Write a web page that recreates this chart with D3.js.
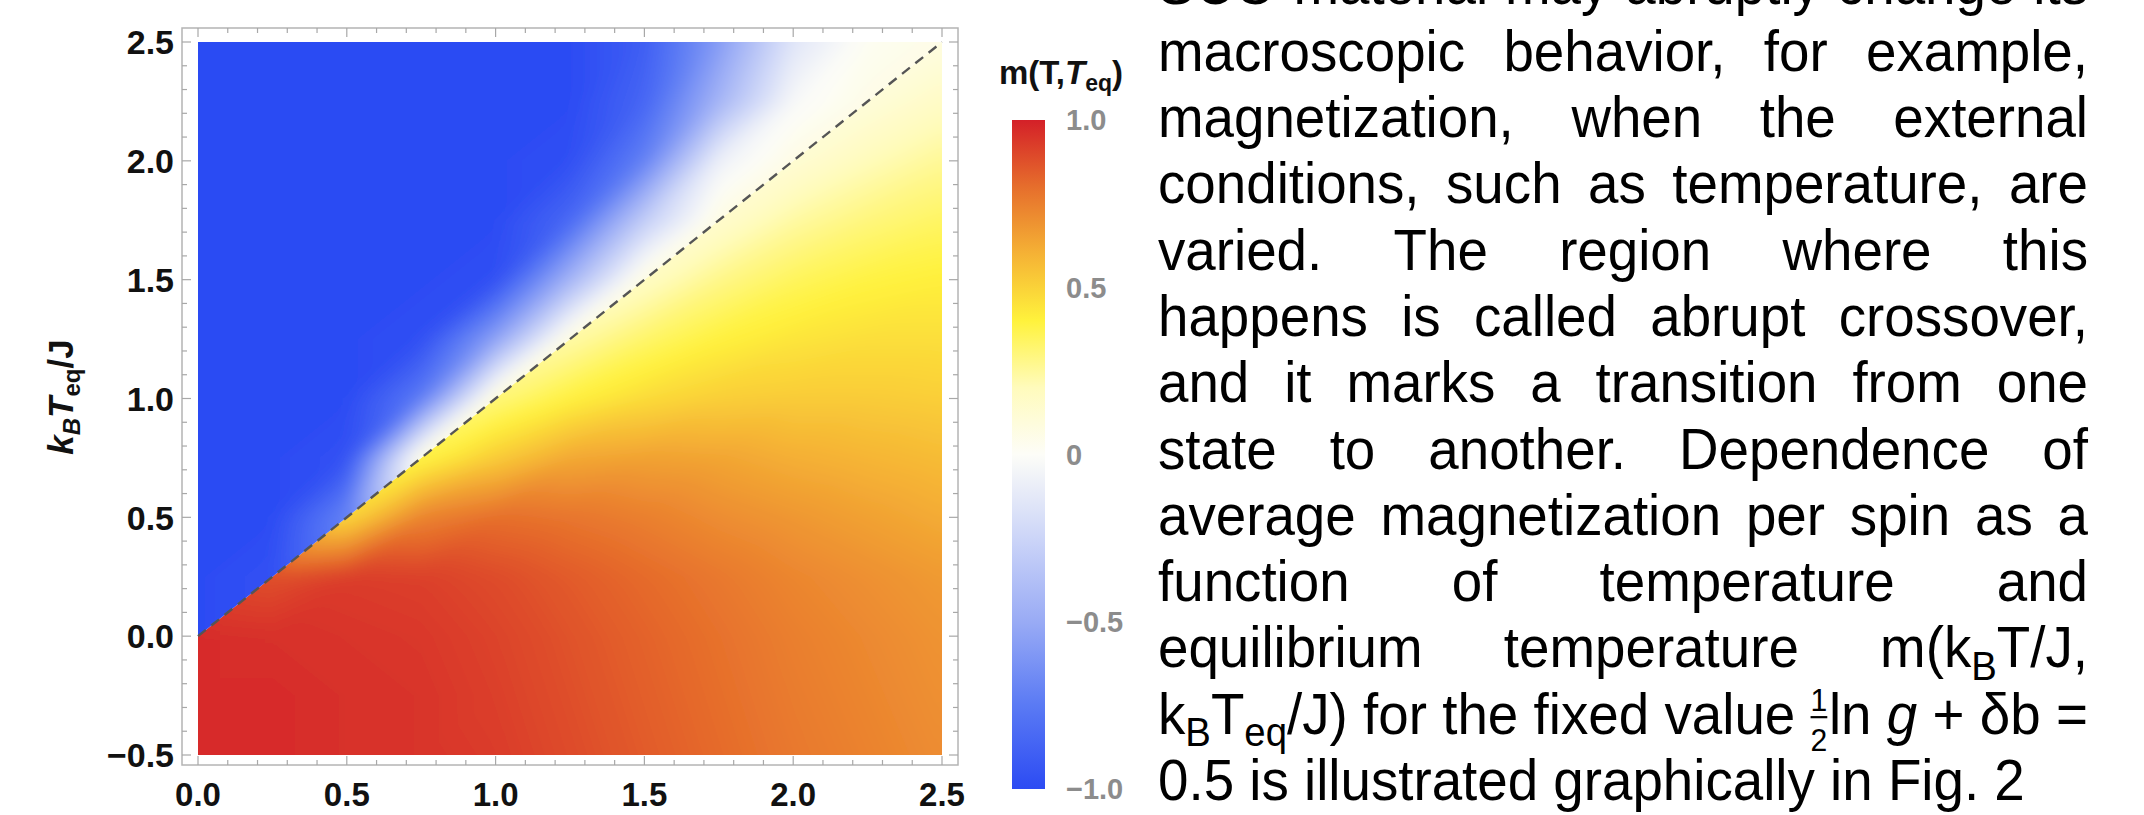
<!DOCTYPE html>
<html><head><meta charset="utf-8">
<script src="https://cdn.jsdelivr.net/npm/d3@7"></script>
<style>html,body{margin:0;padding:0;background:#fff;overflow:hidden}svg{display:block}</style>
</head><body>
<svg id="chart" width="2144" height="815"></svg>
<script>
// ---------------- data ----------------
const tNodes   = [0, 0.25, 0.5, 0.75, 1.0, 1.25, 1.5, 1.75, 2.0, 2.25, 2.5];
const teqNodes = [-0.5, -0.25, 0, 0.25, 0.5, 0.75, 1.0, 1.25, 1.5, 1.75, 2.0, 2.25, 2.5];
// m on the side T >= Teq (rows: Teq, columns: T); null = other side of the diagonal
const mBelow = [
  [0.97, 0.97, 0.96, 0.95, 0.93, 0.89, 0.85, 0.81, 0.77, 0.74, 0.71],
  [0.97, 0.97, 0.96, 0.95, 0.92, 0.88, 0.84, 0.80, 0.76, 0.73, 0.70],
  [0.97, 0.96, 0.95, 0.94, 0.91, 0.87, 0.83, 0.79, 0.75, 0.72, 0.69],
  [null, 0.88, 0.93, 0.92, 0.89, 0.85, 0.81, 0.77, 0.73, 0.70, 0.67],
  [null, null, 0.48, 0.74, 0.80, 0.78, 0.75, 0.71, 0.68, 0.65, 0.62],
  [null, null, null, 0.38, 0.52, 0.63, 0.65, 0.64, 0.61, 0.59, 0.57],
  [null, null, null, null, 0.30, 0.40, 0.47, 0.51, 0.52, 0.52, 0.51],
  [null, null, null, null, null, 0.23, 0.33, 0.40, 0.44, 0.46, 0.46],
  [null, null, null, null, null, null, 0.17, 0.28, 0.35, 0.39, 0.41],
  [null, null, null, null, null, null, null, 0.14, 0.24, 0.30, 0.34],
  [null, null, null, null, null, null, null, null, 0.12, 0.20, 0.26],
  [null, null, null, null, null, null, null, null, null, 0.10, 0.17],
  [null, null, null, null, null, null, null, null, null, null, 0.08]
];
// m on the side T <= Teq
const mAbove = [
  [null, null, null, null, null, null, null, null, null, null, null],
  [null, null, null, null, null, null, null, null, null, null, null],
  [-1.0, null, null, null, null, null, null, null, null, null, null],
  [-1.0, -0.97, null, null, null, null, null, null, null, null, null],
  [-1.0, -1.0, -0.70, null, null, null, null, null, null, null, null],
  [-1.0, -1.0, -0.97, 0.10, null, null, null, null, null, null, null],
  [-1.0, -1.0, -1.0, -0.75, 0.12, null, null, null, null, null, null],
  [-1.0, -1.0, -1.0, -0.98, -0.55, 0.10, null, null, null, null, null],
  [-1.0, -1.0, -1.0, -1.0, -0.98, -0.45, 0.09, null, null, null, null],
  [-1.0, -1.0, -1.0, -1.0, -1.0, -0.85, -0.30, 0.08, null, null, null],
  [-1.0, -1.0, -1.0, -1.0, -1.0, -0.98, -0.72, -0.08, 0.07, null, null],
  [-1.0, -1.0, -1.0, -1.0, -1.0, -1.0, -0.86, -0.45, -0.03, 0.06, null],
  [-1.0, -1.0, -1.0, -1.0, -1.0, -1.0, -0.90, -0.58, -0.15, 0.02, 0.06]
];
const diagT   = [0, 2.5];
const diagTeq = [0, 2.5];
const xTicks = [0, 0.5, 1.0, 1.5, 2.0, 2.5];
const xTickLabels = ["0.0", "0.5", "1.0", "1.5", "2.0", "2.5"];
const yTicks = [-0.5, 0, 0.5, 1.0, 1.5, 2.0, 2.5];
const yTickLabels = ["\u22120.5", "0.0", "0.5", "1.0", "1.5", "2.0", "2.5"];
const cbTicks = [-1, -0.5, 0, 0.5, 1];
const cbTickLabels = ["\u22121.0", "\u22120.5", "0", "0.5", "1.0"];
const colorStops = [-1, -0.75, -0.5, -0.25, 0, 0.2, 0.4, 0.6, 0.8, 1];
const colorHex = ["#2c4bf3", "#5a7af4", "#99abf5", "#ccd5f8", "#fdfdf8", "#fffbbc", "#fff23c", "#f5b235", "#e66e2c", "#d42028"];
const paraLines = [
  "SCO material may abruptly change its",
  "macroscopic behavior, for example,",
  "magnetization, when the external",
  "conditions, such as temperature, are",
  "varied. The region where this",
  "happens is called abrupt crossover,",
  "and it marks a transition from one",
  "state to another. Dependence of",
  "average magnetization per spin as a",
  "function of temperature and",
  "equilibrium temperature m(k_{B}T/J,",
  "k_{B}T_{eq}/J) for the fixed value ^{1/2}ln *g* + \u03b4b =",
  "0.5 is illustrated graphically in Fig. 2"
];
const paraJustify = [true,true,true,true,true,true,true,true,true,true,true,true,false];

// ---------------- chart ----------------
const svg = d3.select('#chart');
const FONT = "'Liberation Sans', Arial, Helvetica, sans-serif";
const x = d3.scaleLinear().domain([0, 2.5]).range([198, 942]);
const y = d3.scaleLinear().domain([-0.5, 2.5]).range([755, 42]);
const color = d3.scaleLinear().domain(colorStops).range(colorHex).clamp(true);

function interp(grid, T, Teq) {
  T = Math.max(tNodes[0], Math.min(tNodes[tNodes.length - 1], T));
  Teq = Math.max(teqNodes[0], Math.min(teqNodes[teqNodes.length - 1], Teq));
  const st = tNodes[1] - tNodes[0], sq = teqNodes[1] - teqNodes[0];
  const fi = (T - tNodes[0]) / st, fj = (Teq - teqNodes[0]) / sq;
  const i = Math.max(0, Math.min(tNodes.length - 2, Math.floor(fi)));
  const j = Math.max(0, Math.min(teqNodes.length - 2, Math.floor(fj)));
  const u = Math.max(0, Math.min(1, fi - i)), v = Math.max(0, Math.min(1, fj - j));
  let f00 = grid[j][i], f10 = grid[j][i + 1], f01 = grid[j + 1][i], f11 = grid[j + 1][i + 1];
  const av = [f00, f10, f01, f11].filter(d => d != null);
  const fb = av.length ? d3.mean(av) : 0;
  f00 = f00 ?? fb; f10 = f10 ?? fb; f01 = f01 ?? fb; f11 = f11 ?? fb;
  if (v >= u) return f00 + u * (f11 - f01) + v * (f01 - f00);
  return f00 + u * (f10 - f00) + v * (f11 - f10);
}

const defs = svg.append('defs');
defs.append('filter').attr('id', 'soft').attr('x', '-5%').attr('y', '-5%').attr('width', '110%').attr('height', '110%')
  .append('feGaussianBlur').attr('stdDeviation', 9);
// regions on each side of the diagonal, built from the scales
const polyAbove = [[0, 0], [0, 2.5], [2.5, 2.5]].map(d => [x(d[0]), y(d[1])]);
const polyBelow = [[0, 0], [2.5, 2.5], [2.5, -0.5], [0, -0.5]].map(d => [x(d[0]), y(d[1])]);
defs.append('clipPath').attr('id', 'clipAbove').append('polygon').attr('points', polyAbove.map(p => p.join(',')).join(' '));
defs.append('clipPath').attr('id', 'clipBelow').append('polygon').attr('points', polyBelow.map(p => p.join(',')).join(' '));

const lut = d3.range(1001).map(k => d3.rgb(color(-1 + 2 * k / 1000)));
const EXT = 30;
const rx0 = Math.round(x(0)) - EXT, rx1 = Math.round(x(2.5)) + EXT;
const ry0 = Math.round(y(2.5)) - EXT, ry1 = Math.round(y(-0.5)) + EXT;
function raster(grid) {
  const W = rx1 - rx0, H = ry1 - ry0;
  const cv = document.createElement('canvas'); cv.width = W; cv.height = H;
  const ctx = cv.getContext('2d');
  const img = ctx.createImageData(W, H);
  for (let py = 0; py < H; py++) {
    const Teq = y.invert(ry0 + py + 0.5);
    for (let px = 0; px < W; px++) {
      const T = x.invert(rx0 + px + 0.5);
      const m = interp(grid, T, Teq);
      const c = lut[Math.max(0, Math.min(1000, Math.round((m + 1) * 500)))];
      const o = (py * W + px) * 4;
      img.data[o] = c.r; img.data[o + 1] = c.g; img.data[o + 2] = c.b; img.data[o + 3] = 255;
    }
  }
  ctx.putImageData(img, 0, 0);
  return cv.toDataURL();
}
[[mBelow, 'clipBelow'], [mAbove, 'clipAbove']].forEach(([grid, clip]) => {
  svg.append('g').attr('clip-path', `url(#${clip})`)
    .append('image').attr('x', rx0).attr('y', ry0).attr('width', rx1 - rx0).attr('height', ry1 - ry0)
    .attr('preserveAspectRatio', 'none').attr('filter', 'url(#soft)').attr('href', raster(grid));
});

// dashed diagonal
svg.append('path')
  .attr('d', d3.line().x(d => x(d[0])).y(d => y(d[1]))(diagT.map((t, k) => [t, diagTeq[k]])))
  .attr('fill', 'none').attr('stroke', '#555').attr('stroke-width', 2.4)
  .attr('stroke-dasharray', '10,7');

// frame
const fr = { l: x(0) - 16, r: x(2.5) + 16, t: y(2.5) - 14, b: y(-0.5) + 10 };
svg.append('rect').attr('x', fr.l).attr('y', fr.t).attr('width', fr.r - fr.l).attr('height', fr.b - fr.t)
  .attr('fill', 'none').attr('stroke', '#b4b4b4').attr('stroke-width', 1.5);
const tk = svg.append('g').attr('stroke', '#a8a8a8').attr('stroke-width', 1.2);
const isMajor = v => Math.abs(v * 2 - Math.round(v * 2)) < 1e-6;
d3.ticks(0, 2.5, 25).forEach(v => {
  const L = isMajor(v) ? 9 : 5, X = x(v);
  tk.append('line').attr('x1', X).attr('x2', X).attr('y1', fr.b).attr('y2', fr.b - L);
  tk.append('line').attr('x1', X).attr('x2', X).attr('y1', fr.t).attr('y2', fr.t + L);
});
d3.ticks(-0.5, 2.5, 30).forEach(v => {
  const L = isMajor(v) ? 9 : 5, Y = y(v);
  tk.append('line').attr('y1', Y).attr('y2', Y).attr('x1', fr.l).attr('x2', fr.l + L);
  tk.append('line').attr('y1', Y).attr('y2', Y).attr('x1', fr.r).attr('x2', fr.r - L);
});
// tick labels
svg.append('g').selectAll('text').data(xTicks).join('text')
  .attr('x', d => x(d)).attr('y', fr.b + 41).attr('text-anchor', 'middle')
  .attr('font-family', FONT).attr('font-weight', 'bold').attr('font-size', 33).attr('fill', '#111')
  .text((d, k) => xTickLabels[k]);
svg.append('g').selectAll('text').data(yTicks).join('text')
  .attr('x', fr.l - 8).attr('y', d => y(d)).attr('dy', '0.36em').attr('text-anchor', 'end')
  .attr('font-family', FONT).attr('font-weight', 'bold').attr('font-size', 34).attr('fill', '#111')
  .text((d, k) => yTickLabels[k]);

// y axis title
const yt = svg.append('text').attr('transform', 'translate(73,397) rotate(-90)')
  .attr('text-anchor', 'middle').attr('font-family', FONT).attr('font-weight', 'bold')
  .attr('font-size', 35).attr('fill', '#111');
yt.append('tspan').attr('font-style', 'italic').text('k');
yt.append('tspan').attr('font-style', 'italic').attr('font-size', 24).attr('dy', 7).text('B');
yt.append('tspan').attr('font-style', 'italic').attr('dy', -7).text('T');
yt.append('tspan').attr('font-size', 24).attr('dy', 7).text('eq');
yt.append('tspan').attr('dy', -7).text('/J');

// colour bar
const cb = d3.scaleLinear().domain([-1, 1]).range([789, 120]);
const grad = defs.append('linearGradient').attr('id', 'cbg').attr('x1', 0).attr('y1', 1).attr('x2', 0).attr('y2', 0);
colorStops.forEach((s, k) => grad.append('stop').attr('offset', (s + 1) / 2).attr('stop-color', colorHex[k]));
svg.append('rect').attr('x', 1012).attr('y', cb(1)).attr('width', 33).attr('height', cb(-1) - cb(1)).attr('fill', 'url(#cbg)');
svg.append('g').selectAll('text').data(cbTicks).join('text')
  .attr('x', 1066).attr('y', d => cb(d)).attr('dy', '0.36em')
  .attr('font-family', FONT).attr('font-weight', 'bold').attr('font-size', 29).attr('fill', '#8c8c8c')
  .text((d, k) => cbTickLabels[k]);
const ct = svg.append('text').attr('x', 999).attr('y', 84).attr('font-family', FONT)
  .attr('font-weight', 'bold').attr('font-size', 33).attr('fill', '#111');
ct.append('tspan').text('m(T,');
ct.append('tspan').attr('font-style', 'italic').text('T');
ct.append('tspan').attr('font-size', 23).attr('dy', 7).text('eq');
ct.append('tspan').attr('dy', -7).text(')');

// ---------------- paragraph ----------------
const FS = 57, SX = 0.96, LEFT = 1158, RIGHT = 2088, BASE_LAST = 800, LINE_H = 66.3;
function parseWord(w) {
  const re = /_\{([^}]*)\}|\^\{([^}]*)\}|\*([^*]*)\*|([^_^*]+)/g; const segs = []; let m;
  while ((m = re.exec(w))) {
    if (m[1] != null) segs.push({ t: m[1], sub: true });
    else if (m[2] != null) segs.push({ frac: m[2].split('/') });
    else if (m[3] != null) segs.push({ t: m[3], it: true });
    else segs.push({ t: m[4] });
  }
  return segs;
}
function mkText(g, str, xx, yy, fs, it) {
  const t = g.append('text').attr('x', xx).attr('y', yy).attr('font-family', FONT)
    .attr('font-size', fs).attr('fill', '#000').text(str);
  if (it) t.attr('font-style', 'italic');
  return t.node().getComputedTextLength();
}
paraLines.forEach((line, li) => {
  const base = BASE_LAST - (paraLines.length - 1 - li) * LINE_H;
  const lg = svg.append('g').attr('transform', `translate(${LEFT},${base}) scale(${SX},1)`);
  const words = line.split(' ');
  const groups = [], widths = [];
  words.forEach(w => {
    const g = lg.append('g'); let cx = 0;
    parseWord(w).forEach(s => {
      if (s.frac) {
        const sf = FS * 0.55;
        const w1 = mkText(g, s.frac[0], cx, -FS * 0.40, sf);
        const w2 = mkText(g, s.frac[1], cx, FS * 0.30, sf);
        const fw = Math.max(w1, w2);
        g.append('line').attr('x1', cx).attr('x2', cx + fw).attr('y1', -FS * 0.29).attr('y2', -FS * 0.29)
          .attr('stroke', '#000').attr('stroke-width', 2.2);
        cx += fw + FS * 0.03;
      } else if (s.sub) {
        cx += mkText(g, s.t, cx, FS * 0.22, FS * 0.7);
      } else {
        cx += mkText(g, s.t, cx, 0, FS, s.it);
      }
    });
    groups.push(g); widths.push(cx);
  });
  const target = (RIGHT - LEFT) / SX;
  const sum = d3.sum(widths);
  const gap = (paraJustify[li] && words.length > 1) ? (target - sum) / (words.length - 1) : FS * 0.278;
  let cx = 0;
  groups.forEach((g, k) => { g.attr('transform', `translate(${cx},0)`); cx += widths[k] + gap; });
});
</script>
</body></html>
